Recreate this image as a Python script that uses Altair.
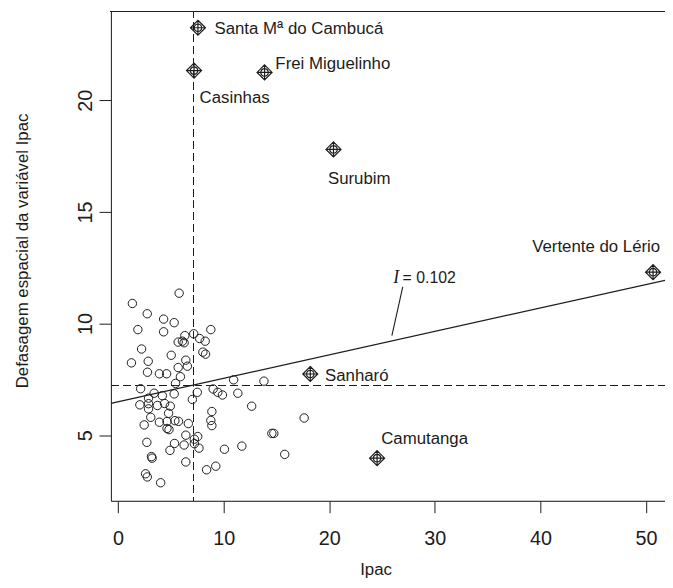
import altair as alt
import pandas as pd

# ---- data ----
ipac = [5.78, 1.35, 2.76, 4.31, 5.31, 1.87, 4.31, 8.78, 6.32, 7.16,
        7.72, 8.25, 5.69, 6.09, 6.25, 2.22, 8.03, 8.28, 5.03, 1.26,
        2.85, 6.41, 6.56, 5.69, 2.78, 3.91, 4.59, 5.90, 5.44, 10.94,
        13.81, 2.13, 9.00, 9.44, 9.88, 7.50, 5.31, 3.41, 11.34, 2.88,
        4.19, 7.03, 2.06, 2.88, 3.72, 4.40, 4.94, 12.65, 2.88, 4.78,
        8.88, 3.09, 8.78, 5.72, 5.38, 6.65, 3.91, 4.63, 8.88, 2.47,
        4.63, 4.82, 14.56, 14.75, 6.41, 7.54, 7.22, 2.72, 5.34, 6.25,
        11.72, 7.22, 7.66, 4.91, 10.07, 15.78, 3.16, 3.22, 6.41, 9.25,
        8.38, 2.60, 2.76, 4.03, 17.62]
lag = [11.36, 10.90, 10.44, 10.20, 10.04, 9.73, 9.63, 9.73, 9.46, 9.54,
       9.33, 9.21, 9.17, 9.21, 9.14, 8.86, 8.72, 8.63, 8.58, 8.24,
       8.31, 8.36, 8.09, 8.03, 7.82, 7.75, 7.75, 7.62, 7.32, 7.48,
       7.42, 7.08, 7.07, 6.92, 6.80, 6.92, 6.85, 6.88, 6.88, 6.66,
       6.77, 6.60, 6.36, 6.41, 6.33, 6.42, 6.30, 6.30, 6.18, 5.98,
       6.06, 5.80, 5.66, 5.62, 5.65, 5.52, 5.58, 5.61, 5.43, 5.46,
       5.30, 5.25, 5.08, 5.08, 5.00, 4.94, 4.82, 4.68, 4.63, 4.56,
       4.51, 4.62, 4.42, 4.32, 4.37, 4.14, 4.04, 3.97, 3.80, 3.61,
       3.45, 3.27, 3.13, 2.87, 5.77]

lab_names = ["Santa Mª do Cambucá", "Casinhas", "Frei Miguelinho", "Surubim",
             "Vertente do Lério", "Sanharó", "Camutanga"]
lab_ipac = [7.56, 7.19, 13.87, 20.40, 50.67, 18.20, 24.53]
lab_lag = [23.25, 21.33, 21.25, 17.80, 12.30, 7.74, 3.97]

mean_ipac = 7.14
mean_lag = 7.225
slope = 0.105
intercept = 6.50
moran_value = "= 0.102"

x_ticks = [0, 10, 20, 30, 40, 50]
y_ticks = [5, 10, 15, 20]

# ---- layout / style ----
W, H = 560, 495
X_DOMAIN = [-0.684, 51.80]
Y_DOMAIN = [2.061, 24.0]
INK = "#1c1c1c"
FONT = "Liberation Sans"
lab_dx = [102, 41, 69, 26, -57.5, 47, 48]
lab_dy = [1, 28, -8, 30, -25, 2, -19]

xscale = alt.Scale(domain=X_DOMAIN, nice=False, zero=False)
yscale = alt.Scale(domain=Y_DOMAIN, nice=False, zero=False)

xaxis = alt.Axis(values=x_ticks, grid=False, tickSize=12, tickColor=INK, domainColor=INK,
                 labelFont=FONT, labelFontSize=20, labelColor=INK, labelPadding=16,
                 labelFlush=False, labelOverlap=False,
                 title="Ipac", titleFont=FONT, titleFontSize=17, titleFontWeight="normal",
                 titleColor=INK, titleX=267.5, titleY=74.5, titleBaseline="alphabetic",
                 titleAlign="center")
yaxis = alt.Axis(values=y_ticks, grid=False, tickSize=12, tickColor=INK, domainColor=INK,
                 labelFont=FONT, labelFontSize=20, labelColor=INK, labelPadding=7.5,
                 labelAngle=270, labelAlign="center", labelBaseline="alphabetic",
                 labelFlush=False, labelOverlap=False,
                 title="Defasagem espacial da variável Ipac", titleFont=FONT, titleFontSize=17,
                 titleFontWeight="normal", titleColor=INK, titleAngle=270,
                 titleX=-84, titleY=242, titleBaseline="alphabetic", titleAlign="center")

X = alt.X("x:Q", scale=xscale, axis=xaxis)
Y = alt.Y("y:Q", scale=yscale, axis=yaxis)

pts = pd.DataFrame({"x": ipac, "y": lag})
labs = pd.DataFrame({"x": lab_ipac, "y": lab_lag, "name": lab_names})

circles = alt.Chart(pts).mark_point(shape="circle", size=72, filled=False,
                                    stroke=INK, strokeWidth=1, opacity=1).encode(x=X, y=Y)

marker_path = ("M0,-1L1,0L0,1L-1,0Z M-1,0L1,0 M0,-1L0,1 "
               "M0.5,0A0.5,0.5,0,1,1,-0.5,0A0.5,0.5,0,1,1,0.5,0")
markers = alt.Chart(labs).mark_point(shape=marker_path, size=230, filled=False,
                                     stroke=INK, strokeWidth=1.2, opacity=1).encode(x=X, y=Y)

label_layers = []
for i, nm in enumerate(lab_names):
    d = pd.DataFrame({"x": [lab_ipac[i]], "y": [lab_lag[i]], "name": [nm]})
    label_layers.append(
        alt.Chart(d).mark_text(font=FONT, fontSize=17, color=INK, align="center",
                               baseline="middle", dx=lab_dx[i], dy=lab_dy[i])
        .encode(x=X, y=Y, text="name:N"))

vline = alt.Chart(pts).mark_rule(color=INK, strokeWidth=1, strokeDash=[7, 5]).encode(
    x=alt.datum(mean_ipac, scale=xscale))
hline = alt.Chart(pts).mark_rule(color=INK, strokeWidth=1, strokeDash=[7, 5]).encode(
    y=alt.datum(mean_lag, scale=yscale))

reg = pd.DataFrame({"x": X_DOMAIN, "y": [intercept + slope * v for v in X_DOMAIN]})
reg_line = alt.Chart(reg).mark_line(color=INK, strokeWidth=1.2, clip=True).encode(x=X, y=Y)

leader = pd.DataFrame({"x": [26.96], "y": [11.64], "x2": [25.93], "y2": [9.46]})
leader_line = alt.Chart(leader).mark_rule(color=INK, strokeWidth=1.1).encode(
    x=X, y=Y, x2="x2:Q", y2="y2:Q")

i_df = pd.DataFrame({"x": [26.34], "y": [12.02], "t": ["I"]})
i_text = alt.Chart(i_df).mark_text(font="Liberation Serif", fontStyle="italic", fontSize=18,
                                   color=INK, align="center", baseline="middle").encode(
    x=X, y=Y, text="t:N")
v_df = pd.DataFrame({"x": [26.94], "y": [12.02], "t": [moran_value]})
v_text = alt.Chart(v_df).mark_text(font=FONT, fontSize=16, color=INK, align="left",
                                   baseline="middle").encode(x=X, y=Y, text="t:N")

top_border = alt.Chart(pts).mark_rule(color=INK, strokeWidth=1).encode(
    x=alt.value(0), x2=alt.value(W), y=alt.value(0.5))

chart = alt.layer(
    top_border, vline, hline, reg_line, leader_line, circles, markers,
    *label_layers, i_text, v_text
).properties(
    width=W, height=H,
    autosize=alt.AutoSizeParams(type="none"),
    padding={"left": 104, "top": 0, "right": 0, "bottom": 77},
).configure_view(stroke=None).configure(background="white")

chart.save("out.html", embed_options={"renderer": "svg", "actions": False})
